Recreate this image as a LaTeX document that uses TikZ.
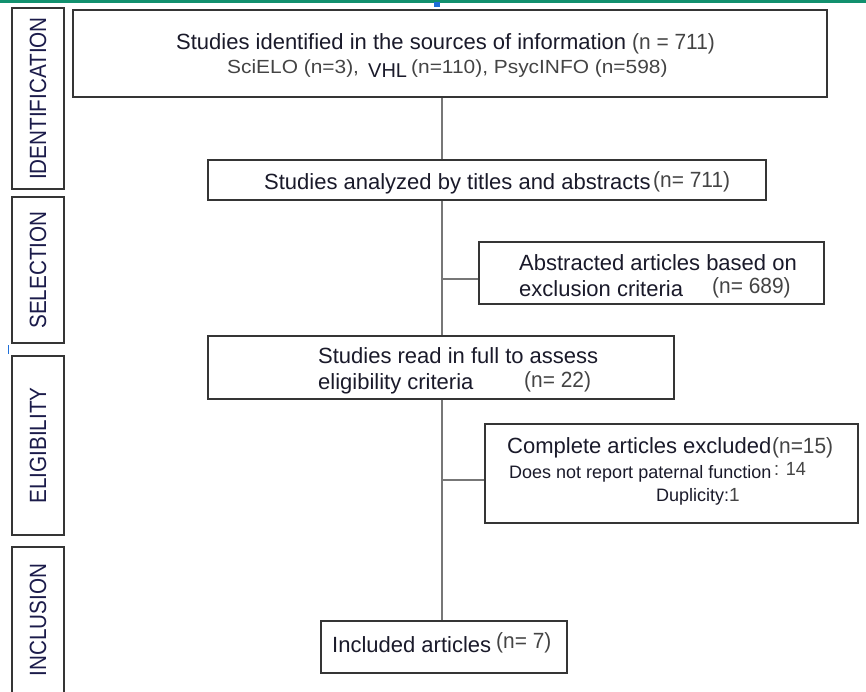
\documentclass[tikz,border=0pt]{standalone}
\usepackage{fontspec}
\setmainfont{Liberation Sans}
\newfontfamily\widefont[FakeStretch=1.1]{Liberation Sans}
\newfontfamily\phasefont[FakeStretch=0.88]{Liberation Sans}
\newfontfamily\narrowfont[FakeStretch=0.95]{Liberation Sans}
\definecolor{txt}{HTML}{1A1A2A}
\definecolor{gtxt}{HTML}{444444}
\definecolor{phtxt}{HTML}{1B1B4A}
\definecolor{edge}{HTML}{353535}
\definecolor{conncol}{HTML}{777777}
\definecolor{topgreen}{HTML}{11906E}
\definecolor{markblue}{HTML}{1E6FD9}
\tikzset{
  box/.style={draw=edge, line width=2pt, inner sep=0pt, fill=white},
  phasebox/.style={draw=edge, line width=2pt, inner sep=0pt},
  phaselabel/.style={rotate=90, inner sep=0pt, text=phtxt, font=\phasefont\fontsize{23.5pt}{26pt}\selectfont},
  maintext/.style={anchor=base west, inner sep=0pt, text=txt, font=\fontsize{22pt}{26pt}\selectfont},
  ntext/.style={anchor=base west, inner sep=0pt, text=gtxt, font=\narrowfont\fontsize{22pt}{24pt}\selectfont},
  smalltext/.style={anchor=base west, inner sep=0pt, text=txt, font=\fontsize{18pt}{21pt}\selectfont},
  conn/.style={draw=conncol, line width=1.4pt}
}
\begin{document}
\begin{tikzpicture}[x=1pt,y=-1pt]
\useasboundingbox (0,0) rectangle (866,691);
\fill[white] (0,0) rectangle (866,691);
\begin{scope}
\clip (0,0) rectangle (866,691);
% top decorations
\fill[topgreen] (0,0) rectangle (866,3);
\fill[markblue] (434,2) rectangle (440,7);
\fill[markblue] (7.5,345) rectangle (9,354);
% phase boxes
\node[phasebox, minimum width=52pt, minimum height=181pt] (p1) at (38,98.5) {};
\node[phasebox, minimum width=52pt, minimum height=146pt] (p2) at (38,270) {};
\node[phasebox, minimum width=52pt, minimum height=179pt] (p3) at (38,445.5) {};
\node[phasebox, minimum width=52pt, minimum height=153pt] (p4) at (38,623.5) {};
\node[phaselabel] (l1) at (38,98.5) {IDENTIFICATION};
\node[phaselabel] (l2) at (38,270) {SELECTION};
\node[phaselabel] (l3) at (38,445.5) {ELIGIBILITY};
\node[phaselabel] (l4) at (38,620) {INCLUSION};
\end{scope}
% main boxes
\node[box, minimum width=754pt, minimum height=87pt] (b1) at (450,53.5) {};
\node[box, minimum width=558pt, minimum height=40pt] (b2) at (487,180) {};
\node[box, minimum width=345pt, minimum height=62pt] (b3) at (651.5,273) {};
\node[box, minimum width=466pt, minimum height=63pt] (b4) at (441,367.5) {};
\node[box, minimum width=373pt, minimum height=99pt] (b5) at (671.5,473.5) {};
\node[box, minimum width=246pt, minimum height=52pt] (b6) at (444,647) {};
% connectors
\coordinate (s1) at (442,279);
\coordinate (s2) at (442,480);
\draw[conn] (b1.south -| s1) -- (b2.north -| s1);
\draw[conn] (b2.south -| s1) -- (b4.north -| s1);
\draw[conn] (b4.south -| s1) -- (b6.north -| s1);
\draw[conn] (s1) -- (s1 -| b3.west);
\draw[conn] (s2) -- (s2 -| b5.west);
% box 1 texts
\node[maintext] (t1a) at (176,49) {Studies identified in the sources of information};
\node[ntext] (t1b) at (632,49) {(n = 711)};
\node[anchor=base west, inner sep=0pt, text=gtxt, font=\widefont\fontsize{19pt}{22pt}\selectfont] (t1c) at (227,73) {SciELO (n=3),};
\node[anchor=base west, inner sep=0pt, text=txt, font=\fontsize{20pt}{22pt}\selectfont] (t1d) at (368,77) {VHL};
\node[anchor=base west, inner sep=0pt, text=gtxt, font=\widefont\fontsize{19pt}{22pt}\selectfont] (t1e) at (411,73) {(n=110), PsycINFO (n=598)};
% box 2 texts
\node[maintext] (t2a) at (264,189) {Studies analyzed by titles and abstracts};
\node[ntext] (t2b) at (653,187) {(n= 711)};
% box 3 texts
\node[maintext] (t3a) at (519,270) {Abstracted articles based on};
\node[maintext] (t3b) at (519,296) {exclusion criteria};
\node[ntext] (t3c) at (712,293) {(n= 689)};
% box 4 texts
\node[maintext] (t4a) at (318,363) {Studies read in full to assess};
\node[maintext] (t4b) at (318,389) {eligibility criteria};
\node[ntext] (t4c) at (524,387) {(n= 22)};
% box 5 texts
\node[maintext] (t5a) at (507,453) {Complete articles excluded};
\node[ntext] (t5b) at (772,453) {(n=15)};
\node[smalltext] (t5c) at (509,478) {Does not report paternal function};
\node[ntext, font=\narrowfont\fontsize{19pt}{22pt}\selectfont] (t5d) at (774,475) {: 14};
\node[smalltext] (t5e) at (656,501) {Duplicity:\textcolor{gtxt}{\fontsize{19pt}{22pt}\selectfont 1}};
% box 6 texts
\node[maintext] (t6a) at (332,652) {Included articles};
\node[ntext] (t6b) at (496,648) {(n= 7)};
\end{tikzpicture}
\end{document}
